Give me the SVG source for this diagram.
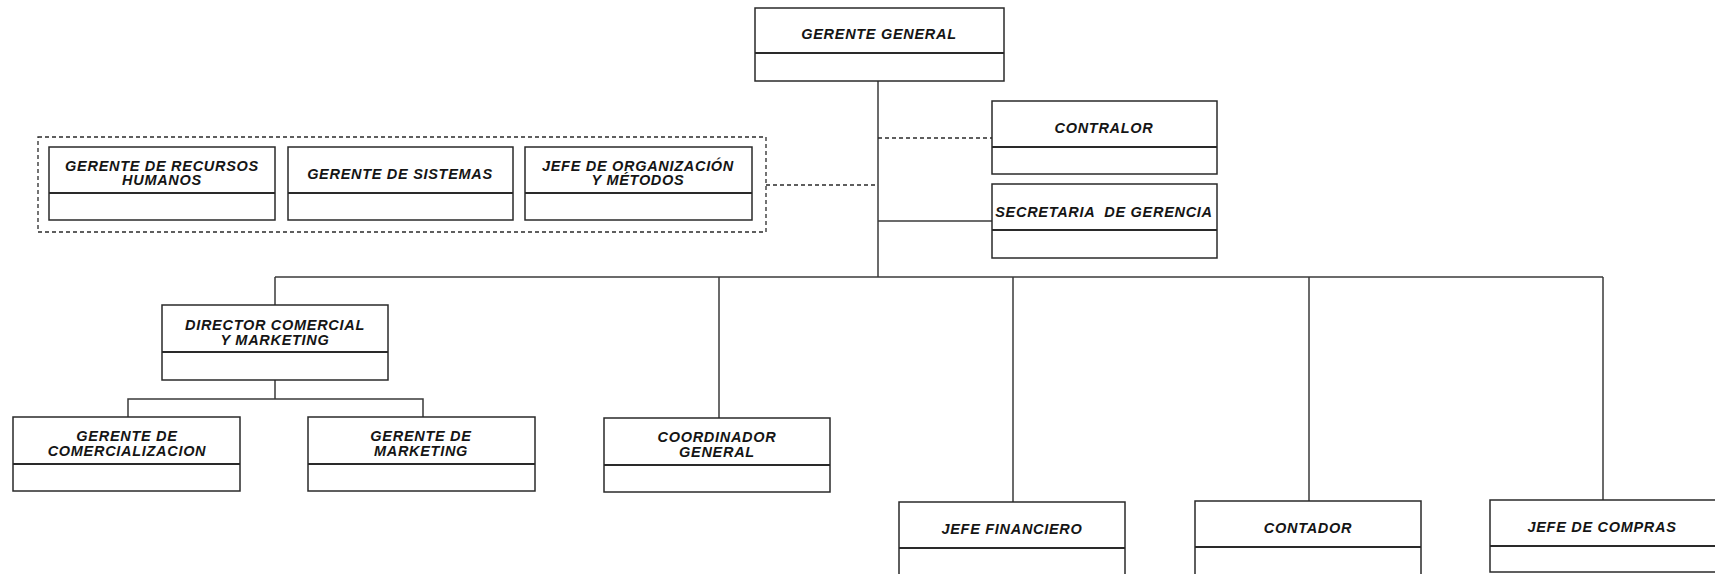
<svg xmlns="http://www.w3.org/2000/svg" width="1715" height="574" viewBox="0 0 1715 574">
<style>
.box{fill:#fff;stroke:#2a2a2a;stroke-width:1.5}
.div{stroke:#2a2a2a;stroke-width:1.8}
.ln{fill:none;stroke:#3a3a3a;stroke-width:1.5}
.dash{fill:none;stroke:#2a2a2a;stroke-width:1.3;stroke-dasharray:4 3}
text{font-family:"Liberation Sans",Arial,sans-serif;font-weight:bold;font-style:italic;font-size:14.5px;letter-spacing:0.7px;fill:#151515;text-anchor:middle}
</style>
<rect width="1715" height="574" fill="#fff"/>
<g id="connectors">
<path class="ln" d="M878 81V277"/>
<path class="ln" d="M878 221H992"/>
<path class="dash" d="M878 138H992"/>
<path class="dash" d="M766 185H878"/>
<path class="ln" d="M275 277H1603"/>
<path class="ln" d="M275 277V305"/>
<path class="ln" d="M719 277V418"/>
<path class="ln" d="M1013 277V502"/>
<path class="ln" d="M1309 277V501"/>
<path class="ln" d="M1603 277V500"/>
<path class="ln" d="M275 380V399M128 417V399H423V417"/>
</g>
<g id="staff-group"><rect class="dash" x="38" y="137" width="728" height="95"/></g>
<g id="gerente-general"><rect class="box" x="755" y="8" width="249" height="73"/><path class="div" d="M755 53H1004"/><text x="879" y="39">GERENTE GENERAL</text></g>
<g id="contralor"><rect class="box" x="992" y="101" width="225" height="73"/><path class="div" d="M992 147H1217"/><text x="1104" y="133">CONTRALOR</text></g>
<g id="secretaria"><rect class="box" x="992" y="184" width="225" height="74"/><path class="div" d="M992 230H1217"/><text x="1104" y="217" xml:space="preserve">SECRETARIA  DE GERENCIA</text></g>
<g id="rrhh"><rect class="box" x="49" y="147" width="226" height="73"/><path class="div" d="M49 193H275"/><text x="162" y="171">GERENTE DE RECURSOS</text><text x="162" y="185">HUMANOS</text></g>
<g id="sistemas"><rect class="box" x="288" y="147" width="225" height="73"/><path class="div" d="M288 193H513"/><text x="400" y="179">GERENTE DE SISTEMAS</text></g>
<g id="organizacion"><rect class="box" x="525" y="147" width="227" height="73"/><path class="div" d="M525 193H752"/><text x="638" y="171">JEFE DE ORGANIZACIÓN</text><text x="638" y="185">Y MÉTODOS</text></g>
<g id="director"><rect class="box" x="162" y="305" width="226" height="75"/><path class="div" d="M162 352H388"/><text x="275" y="330">DIRECTOR COMERCIAL</text><text x="275" y="345">Y MARKETING</text></g>
<g id="comercializacion"><rect class="box" x="13" y="417" width="227" height="74"/><path class="div" d="M13 464H240"/><text x="127" y="441">GERENTE DE</text><text x="127" y="456">COMERCIALIZACION</text></g>
<g id="marketing"><rect class="box" x="308" y="417" width="227" height="74"/><path class="div" d="M308 464H535"/><text x="421" y="441">GERENTE DE</text><text x="421" y="456">MARKETING</text></g>
<g id="coordinador"><rect class="box" x="604" y="418" width="226" height="74"/><path class="div" d="M604 465H830"/><text x="717" y="442">COORDINADOR</text><text x="717" y="457">GENERAL</text></g>
<g id="financiero"><rect class="box" x="899" y="502" width="226" height="80"/><path class="div" d="M899 548H1125"/><text x="1012" y="534">JEFE FINANCIERO</text></g>
<g id="contador"><rect class="box" x="1195" y="501" width="226" height="80"/><path class="div" d="M1195 547H1421"/><text x="1308" y="533">CONTADOR</text></g>
<g id="compras"><rect class="box" x="1490" y="500" width="230" height="72"/><path class="div" d="M1490 546H1715"/><text x="1602" y="532">JEFE DE COMPRAS</text></g>
</svg>
